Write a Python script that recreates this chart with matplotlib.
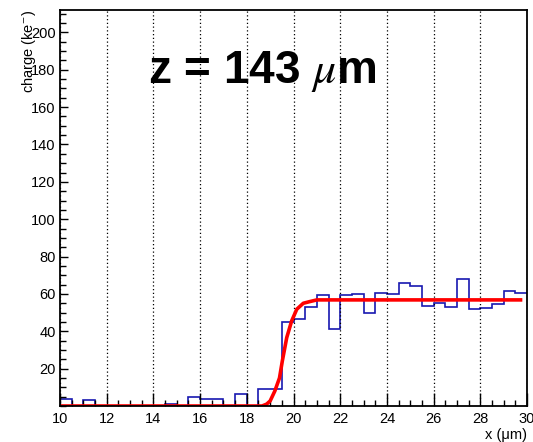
import numpy as np
import matplotlib
matplotlib.use("Agg")
import matplotlib.pyplot as plt
from matplotlib.ticker import MultipleLocator

plt.rcParams["font.family"] = ["Liberation Sans", "DejaVu Sans"]
plt.rcParams["mathtext.fontset"] = "stix"

# histogram: 0.5 um bins from 10 to 30 um
bin_edges = np.arange(10.0, 30.01, 0.5)
charge = [4.0, 0.0, 3.4, 0.0, 0.0, 0.0, 0.0, 0.0, 0.0, 1.2,
          0.0, 4.8, 4.0, 4.0, 0.0, 6.4, 0.0, 9.0, 9.0, 45.0,
          46.4, 53.0, 59.3, 41.2, 59.3, 60.0, 49.8, 60.7, 59.8, 65.7,
          64.3, 53.6, 55.0, 53.0, 67.9, 51.8, 52.7, 54.5, 61.4, 60.7]

# fitted edge curve
fit_x = [10.0, 18.65, 18.85, 19.0, 19.2, 19.4, 19.52, 19.71, 19.92,
         20.14, 20.42, 20.7, 21.0, 29.8]
fit_y = [0.0, 0.0, 1.0, 2.7, 8.0, 15.0, 24.0, 36.6, 45.5,
         51.8, 55.0, 55.9, 56.8, 56.8]

label_text = "z = 143 $\\mu$m"

fig = plt.figure(figsize=(5.33, 4.42), dpi=100)
ax = fig.add_axes([60 / 533, 1 - 406 / 442, 467 / 533, 396 / 442])

ax.stairs(charge, bin_edges, color="#1818b0", lw=1.2, baseline=None)
ax.plot(fit_x, fit_y, color="#ff0000", lw=2.6, solid_capstyle="butt")

ax.set_xlim(10, 30)
ax.set_ylim(0, 212)

ax.xaxis.set_major_locator(MultipleLocator(2))
ax.xaxis.set_minor_locator(MultipleLocator(0.5))
ax.yaxis.set_major_locator(MultipleLocator(20))
ax.yaxis.set_minor_locator(MultipleLocator(5))
ax.set_yticks(np.arange(20, 201, 20))

ax.tick_params(axis="both", which="both", direction="in", labelsize=10.5,
               top=False, right=False, color="black")
ax.tick_params(axis="x", which="major", length=9.5, width=1, pad=4)
ax.tick_params(axis="x", which="minor", length=4.5, width=1)
ax.tick_params(axis="y", which="major", length=6, width=1, pad=3)
ax.tick_params(axis="y", which="minor", length=4, width=1)

ax.grid(axis="x", which="major", color="black", linestyle=(0, (1, 2)), lw=0.9)

for sp in ax.spines.values():
    sp.set_linewidth(1.3)

ax.set_xlabel("x (\u03bcm)", fontsize=10.5, loc="right")
ax.xaxis.set_label_coords(1.0, -0.055)
ax.set_ylabel("charge (ke$^{-}$)", fontsize=10.5, loc="top")
ax.yaxis.set_label_coords(-0.048, 1.0)

ax.text(13.77, 173, label_text, fontsize=33, fontweight="bold",
        ha="left", va="baseline")

fig.savefig("out.png", dpi=100)
